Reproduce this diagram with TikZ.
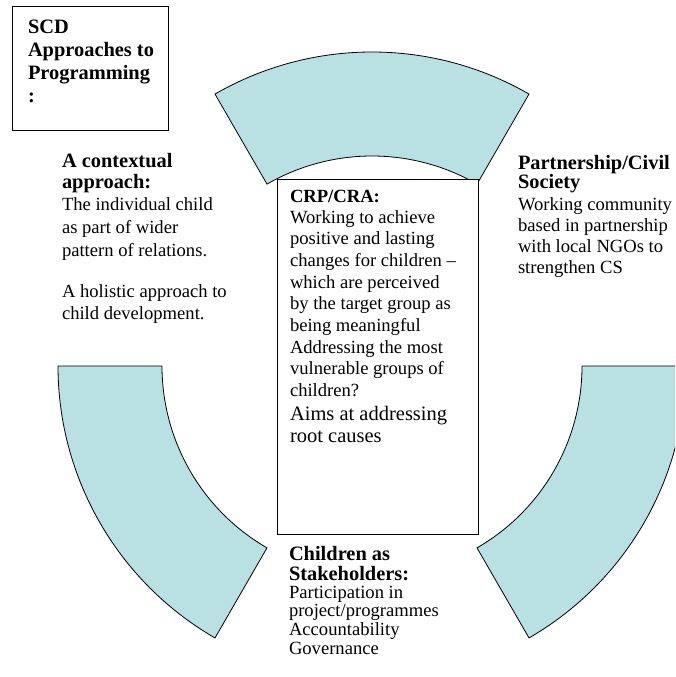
\documentclass[tikz,border=0pt]{standalone}
\usepackage{fontspec}
\setmainfont{Liberation Serif}
\definecolor{bandfill}{RGB}{185,224,227}
\tikzset{
  band/.style={draw=black, line width=0.8pt, fill=bandfill, line join=miter},
  panel/.style={draw=black, line width=1pt, fill=white},
  % multi-line nodes: the base anchor sits on the baseline of the last line
  txt/.style={anchor=base west, inner sep=0pt, outer sep=0pt, align=left},
  head/.style={txt, font=\bfseries\fontsize{20.4}{#1}\selectfont},
  body/.style={txt, font=\fontsize{18.6}{#1}\selectfont},
}
\begin{document}
\begin{tikzpicture}[x=1pt, y=1pt]
  \useasboundingbox (0,0) rectangle (675,-677);
  \clip (0,0) rectangle (675,-677);

  % three ring segments around a common centre
  \begin{scope}[shift={(372,-366)}]
    \draw[band] (60:314) arc[start angle=60, end angle=120, radius=314]
      -- (120:210) arc[start angle=120, end angle=60, radius=210] -- cycle;
    \draw[band] (180:314) arc[start angle=180, end angle=240, radius=314]
      -- (240:210) arc[start angle=240, end angle=180, radius=210] -- cycle;
    \draw[band] (300:314) arc[start angle=300, end angle=360, radius=314]
      -- (360:210) arc[start angle=360, end angle=300, radius=210] -- cycle;
  \end{scope}

  % title box
  \draw[panel] (12,-7) rectangle (168,-130);
  \node[head=23.3] (title) at (28,-102.9) {SCD\\Approaches to\\Programming\\:};

  % central box
  \draw[panel] (277,-179) rectangle (478,-534);
  \node[txt, font=\bfseries\fontsize{18.6}{21.7}\selectfont] (crphead) at (290,-202) {CRP/CRA:};
  \node[body=21.7] (crpbody) at (290,-396.6) {Working to achieve\\positive and lasting\\changes for children –\\which are perceived\\by the target group as\\being meaningful\\Addressing the most\\vulnerable groups of\\children?};
  \node[txt, font=\fontsize{20.5}{22}\selectfont] (crpaims) at (290,-442) {Aims at addressing\\root causes};

  % left block
  \node[head=21.5] (ctxhead) at (62,-188.5) {A contextual\\approach:};
  \node[body=23] (ctxbody) at (62,-256) {The individual child\\as part of wider\\pattern of relations.};
  \node[body=22] (ctxholistic) at (62,-319) {A holistic approach to\\child development.};

  % right block
  \node[head=19.5] (parthead) at (518,-188.5) {Partnership/Civil\\Society};
  \node[body=21.1] (partbody) at (518,-273.3) {Working community\\based in partnership\\with local NGOs to\\strengthen CS};

  % bottom block
  \node[head=20] (stakehead) at (289,-580) {Children as\\Stakeholders:};
  \node[body=18.7] (stakebody) at (289,-654.1) {Participation in\\project/programmes\\Accountability\\Governance};
\end{tikzpicture}
\end{document}
